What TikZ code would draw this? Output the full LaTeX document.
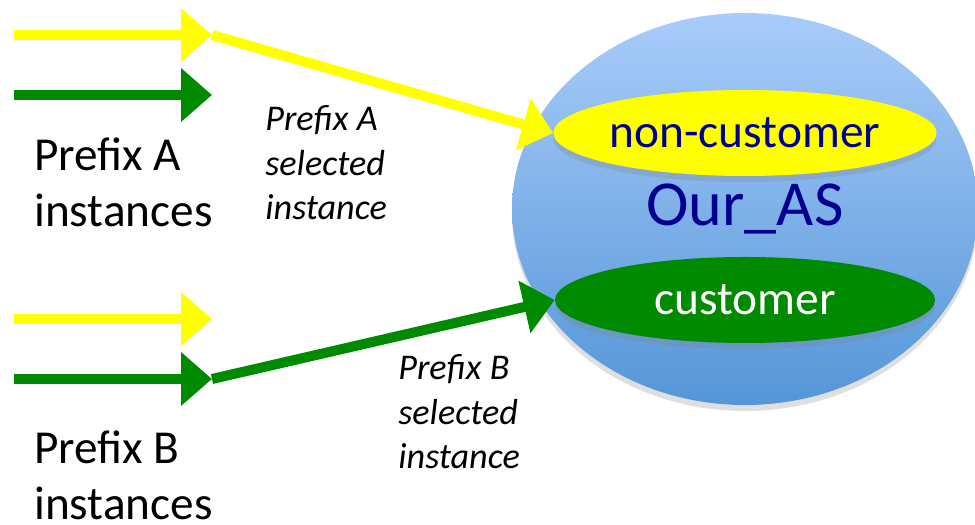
\documentclass[tikz,border=0pt]{standalone}
\usepackage{fontspec}
\setmainfont{Carlito}
\usetikzlibrary{arrows.meta,shapes.geometric,shadows}

\definecolor{asblue}{HTML}{000090}
\definecolor{pfxyellow}{HTML}{FFFF00}
\definecolor{pfxgreen}{HTML}{008A00}
\definecolor{skytop}{HTML}{A9CCFA}
\definecolor{skybottom}{HTML}{5596D8}

\begin{document}
\begin{tikzpicture}[x=0.2mm, y=0.2mm,
  fatarrow/.style={line width=2mm, -{Triangle[length=6.2mm, width=10.4mm]}},
  softshadow/.style={drop shadow={opacity=0.25, shadow xshift=0mm, shadow yshift=-1.2mm}},
  kindoval/.style={ellipse, minimum width=76mm, minimum height=17.2mm, inner sep=0pt, softshadow,
    font=\fontsize{27}{32}\selectfont},
  pfxtext/.style={anchor=north west, align=left, inner sep=0pt, font=\fontsize{26.9}{32.2}\selectfont},
  seltext/.style={anchor=north west, align=left, inner sep=0pt, font=\itshape\fontsize{20.6}{25.5}\selectfont}]
\useasboundingbox (0, 0) rectangle (975, 525);

% Our AS and its two kinds of routes
\node (ourAS) [ellipse, minimum width=93.2mm, minimum height=78.4mm, inner sep=0pt,
  top color=skytop, bottom color=skybottom, softshadow, text=asblue,
  font=\fontsize{36.5}{42}\selectfont] at (745, 316) {Our\_AS};
\node (noncust) [kindoval, fill=pfxyellow, text=asblue] at (745, 392) {non-customer};
\node (cust) [kindoval, fill=pfxgreen, text=white] at (745, 225) {customer};

% Prefix A instances
\coordinate (srcA1) at (14, 490);
\coordinate (tipA1) at (212, 490);
\coordinate (srcA2) at (14, 430);
\coordinate (tipA2) at (212, 430);
\draw[fatarrow, pfxyellow] (srcA1) -- (tipA1);
\draw[fatarrow, pfxgreen] (srcA2) -- (tipA2);
\node (pfxA) [pfxtext] at (34, 388) {Prefix A\\instances};

% Prefix B instances
\coordinate (srcB1) at (14, 206);
\coordinate (tipB1) at (212, 206);
\coordinate (srcB2) at (14, 146);
\coordinate (tipB2) at (212, 146);
\draw[fatarrow, pfxyellow] (srcB1) -- (tipB1);
\draw[fatarrow, pfxgreen] (srcB2) -- (tipB2);
\node (pfxB) [pfxtext] at (34, 95) {Prefix B\\instances};

% selected instances
\draw[fatarrow, pfxyellow] (tipA1) -- (noncust.west);
\draw[fatarrow, pfxgreen] (tipB2) -- (cust.west);
\node (selA) [seltext] at (265, 420) {Prefix A\\selected\\instance};
\node (selB) [seltext] at (398, 171) {Prefix B\\selected\\instance};
\end{tikzpicture}
\end{document}
